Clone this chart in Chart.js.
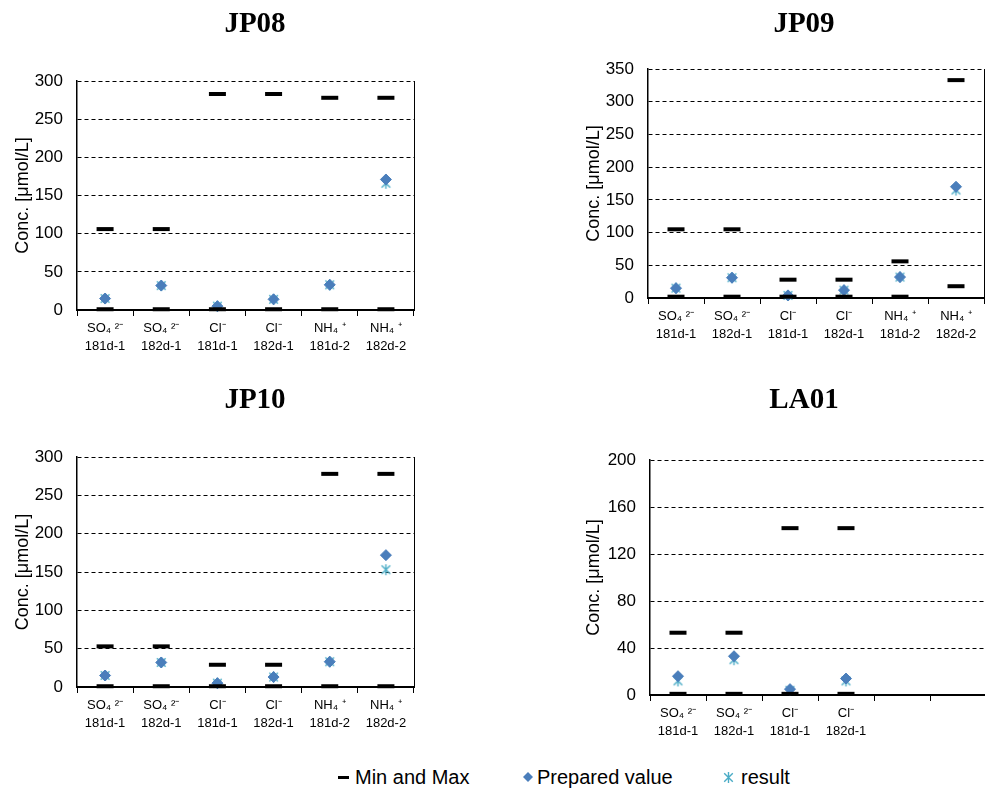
<!DOCTYPE html>
<html>
<head>
<meta charset="utf-8">
<script src="https://cdn.jsdelivr.net/npm/chart.js@4.4.1/dist/chart.umd.min.js"></script>
<style>
  html, body { margin: 0; padding: 0; background: #fff; }
  body { width: 985px; height: 789px; position: relative; overflow: hidden; font-family: 'Liberation Sans', Arial, sans-serif; }
  canvas.panel { position: absolute; }
  #legend { position: absolute; left: 0; top: 764px; width: 985px; height: 26px; font-size: 20px; color: #000; }
  #legend .item { position: absolute; top: 0; line-height: 26px; white-space: nowrap; }
  #legend canvas { position: absolute; }
</style>
</head>
<body>
<canvas id="jp08" class="panel" width="510" height="376" style="left:0px;top:0px"></canvas>
<canvas id="jp09" class="panel" width="466" height="376" style="left:571px;top:0px"></canvas>
<canvas id="jp10" class="panel" width="510" height="380" style="left:0px;top:376px"></canvas>
<canvas id="la01" class="panel" width="466" height="380" style="left:571px;top:376px"></canvas>

<div id="legend">
  <canvas id="mk-minmax" width="16" height="26" style="left:336px;top:0"></canvas>
  <span class="item" style="left:355px">Min and Max</span>
  <canvas id="mk-prep" width="14" height="26" style="left:521px;top:0"></canvas>
  <span class="item" style="left:537px">Prepared value</span>
  <canvas id="mk-result" width="14" height="26" style="left:722px;top:0"></canvas>
  <span class="item" style="left:741px">result</span>
</div>

<script>
/*
 * Data
**/
const ionLabels = [
  ['SO₄ ²⁻', '181d-1'], ['SO₄ ²⁻', '182d-1'],
  ['Cl⁻', '181d-1'], ['Cl⁻', '182d-1'],
  ['NH₄ ⁺', '181d-2'], ['NH₄ ⁺', '182d-2']
]
const la01Labels = [
  ['SO₄ ²⁻', '181d-1'], ['SO₄ ²⁻', '182d-1'],
  ['Cl⁻', '181d-1'], ['Cl⁻', '182d-1'],
  '', ''
]

const jp08Min = [1, 1, 1, 1, 1, 1]
const jp08Max = [106, 106, 283, 283, 278, 278]
const jp08Prepared = [15, 32, 5, 14, 33, 171]
const jp08Result = [15, 32, 5, 14, 33, 166]

const jp09Min = [2, 2, 2, 2, 2, 18]
const jp09Max = [105, 105, 28, 28, 56, 333]
const jp09Prepared = [15, 31, 4, 12, 32, 170]
const jp09Result = [15, 31, 4, 12, 32, 165]

const jp10Min = [1, 1, 1, 1, 1, 1]
const jp10Max = [53, 53, 29, 29, 278, 278]
const jp10Prepared = [15, 32, 5, 13, 33, 172]
const jp10Result = [15, 32, 5, 13, 33, 153]

const la01Min = [1, 1, 1, 1, null, null]
const la01Max = [53, 53, 142, 142, null, null]
const la01Prepared = [16, 33, 5, 14, null, null]
const la01Result = [12, 30, 4, 12, null, null]

const prepColor = '#4a7ebb'
const resultColor = '#4bacc6'

// Excel style "star" marker: an X with a vertical stroke
function starMarker(size, color) {
  const c = document.createElement('canvas')
  c.width = size
  c.height = size
  const ctx = c.getContext('2d')
  const h = size / 2
  const r = size / 2 - 1
  const d = r * 0.78
  ctx.strokeStyle = color
  ctx.lineWidth = 1.4
  ctx.beginPath()
  ctx.moveTo(h - d, h - d); ctx.lineTo(h + d, h + d)
  ctx.moveTo(h + d, h - d); ctx.lineTo(h - d, h + d)
  ctx.moveTo(h, h - r); ctx.lineTo(h, h + r)
  ctx.stroke()
  return c
}
const starImg = starMarker(13, resultColor)

const axisFont = { family: "'Liberation Sans', Arial, sans-serif", size: 17 }
const titleSize = 29
const titleTop = 7

function buildChart(id, title, labels, mins, maxs, prepared, result, yMax, yStep, box) {
  const canvas = document.getElementById(id)
  const pointSet = (label, data, extra) => Object.assign({
    label: label,
    data: data,
    showLine: false,
    clip: false,
    pointHoverRadius: 0
  }, extra)

  const minMaxStyle = {
    pointStyle: 'line',
    pointRadius: 8.5,
    pointBorderWidth: 4,
    pointBorderColor: '#000',
    pointBackgroundColor: '#000',
    borderColor: '#000'
  }

  return new Chart(canvas, {
    type: 'line',
    data: {
      labels: labels,
      datasets: [
        pointSet('Min', mins, minMaxStyle),
        pointSet('Max', maxs, minMaxStyle),
        pointSet('Prepared value', prepared, {
          pointStyle: 'rectRot',
          pointRadius: 5.5,
          pointBorderWidth: 1,
          pointBorderColor: prepColor,
          pointBackgroundColor: prepColor,
          borderColor: prepColor
        }),
        pointSet('result', result, {
          pointStyle: starImg,
          borderColor: resultColor
        })
      ]
    },
    options: {
      responsive: false,
      animation: false,
      events: [],
      layout: { padding: 0 },
      plugins: {
        legend: { display: false },
        tooltip: { enabled: false },
        title: {
          display: true,
          text: title,
          color: '#000',
          font: { family: "'Liberation Serif', 'Times New Roman', serif", size: titleSize, weight: 'bold', lineHeight: 1.2 },
          padding: { top: titleTop, bottom: box.top - titleTop - titleSize * 1.2 }
        }
      },
      scales: {
        x: {
          type: 'category',
          offset: true,
          grid: {
            display: true,
            offset: true,
            drawOnChartArea: false,
            drawTicks: true,
            tickLength: 6,
            color: '#000',
            lineWidth: 1
          },
          border: { display: true, color: '#000', width: 2 },
          ticks: {
            color: '#000',
            font: { family: axisFont.family, size: 13, lineHeight: 1.4 },
            maxRotation: 0,
            autoSkip: false,
            padding: 3
          },
          afterFit: (scale) => { scale.height = canvas.height - box.bottom }
        },
        y: {
          min: 0,
          max: yMax,
          grid: { color: '#000', lineWidth: 1, drawTicks: false },
          border: { display: true, color: '#000', width: 1.5, dash: [4, 3] },
          ticks: { stepSize: yStep, color: '#000', font: axisFont, padding: 14 },
          title: {
            display: true,
            text: 'Conc. [μmol/L]',
            color: '#000',
            font: { family: axisFont.family, size: 18 },
            padding: { top: 12, bottom: 0 }
          },
          afterFit: (scale) => { scale.width = box.left }
        },
        // right frame line; its width takes up the space right of the plot
        y2: {
          position: 'right',
          display: true,
          grid: { display: false, drawTicks: false },
          ticks: { display: false },
          border: { display: true, color: '#000', width: 1 },
          afterFit: (scale) => { scale.width = canvas.width - box.right }
        }
      }
    }
  })
}

/*
 * Main block
**/
buildChart('jp08', 'JP08', ionLabels, jp08Min, jp08Max, jp08Prepared, jp08Result, 300, 50,
  { left: 77, top: 81, right: 414, bottom: 310 })
buildChart('jp09', 'JP09', ionLabels, jp09Min, jp09Max, jp09Prepared, jp09Result, 350, 50,
  { left: 77, top: 69, right: 413, bottom: 298 })
buildChart('jp10', 'JP10', ionLabels, jp10Min, jp10Max, jp10Prepared, jp10Result, 300, 50,
  { left: 77, top: 81, right: 414, bottom: 311 })
buildChart('la01', 'LA01', la01Labels, la01Min, la01Max, la01Prepared, la01Result, 200, 40,
  { left: 79, top: 84, right: 415, bottom: 319 })

// Legend markers
;(() => {
  let ctx = document.getElementById('mk-minmax').getContext('2d')
  ctx.fillStyle = '#000'
  ctx.fillRect(2, 12, 11, 3)

  ctx = document.getElementById('mk-prep').getContext('2d')
  ctx.fillStyle = prepColor
  ctx.beginPath()
  ctx.moveTo(7, 8); ctx.lineTo(12, 13); ctx.lineTo(7, 18); ctx.lineTo(2, 13)
  ctx.closePath()
  ctx.fill()

  ctx = document.getElementById('mk-result').getContext('2d')
  ctx.drawImage(starMarker(13, resultColor), 0, 7)
})()
</script>
</body>
</html>
